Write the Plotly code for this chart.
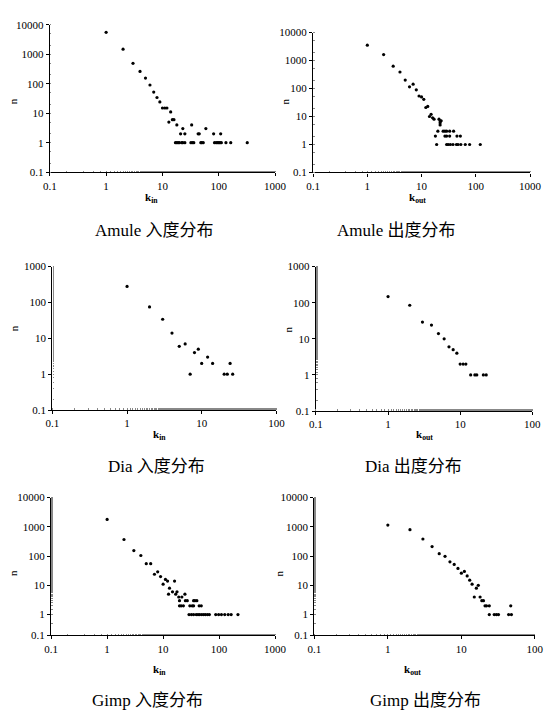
import plotly.graph_objects as go

W, H = 551, 716

# ---------------- data ----------------
amule_in_k = [1, 2, 3, 4, 5, 6, 7, 8, 9, 10, 11, 12, 14, 13, 15, 16, 18, 21, 23, 25, 33, 43, 45, 59, 81, 108,
              17, 18, 19, 20, 22, 23, 25, 32, 34, 36, 48, 50, 53, 84, 90, 95, 100, 105, 111, 134, 163, 320]
amule_in_n = [5500, 1480, 490, 260, 155, 90, 52, 34, 24, 15, 15, 15, 11, 5, 6, 6, 4, 2, 3, 2, 4, 2, 2, 3, 2, 2,
              1, 1, 1, 1, 1, 1, 1, 1, 1, 1, 1, 1, 1, 1, 1, 1, 1, 1, 1, 1, 1, 1]

amule_out_k = [1, 2, 3, 4, 5, 6, 7, 8, 9, 10, 11, 12, 13, 14, 15, 16, 17, 21, 22, 23, 22, 22,
               20, 25, 27, 29, 33, 39,
               18, 27, 29, 33, 45, 52,
               19, 29, 31, 34, 38, 44, 47, 53, 64, 77, 121]
amule_out_n = [3550, 1630, 630, 390, 200, 115, 143, 90, 54, 50, 41, 21, 23, 10, 12, 9, 8, 8, 7, 7, 6, 5,
               3, 3, 3, 3, 3, 3,
               2, 2, 2, 2, 2, 2,
               1, 1, 1, 1, 1, 1, 1, 1, 1, 1, 1]

dia_in_k = [1, 2, 3, 4, 5, 6, 7, 8, 9, 10, 12, 14, 20, 22, 24, 26]
dia_in_n = [280, 75, 34, 14, 6, 7, 1, 4, 5, 2, 3, 2, 1, 1, 2, 1]

dia_out_k = [1, 2, 3, 4, 5, 6, 7, 8, 9, 10, 11, 12, 14, 16, 17, 21, 23]
dia_out_n = [148, 85, 29, 24, 14, 10, 6, 5, 4, 2, 2, 2, 1, 1, 1, 1, 1]

gimp_in_k = [1, 2, 3, 4, 5, 6, 7, 8, 9, 10, 11, 12, 16, 13, 12.5, 14.7, 16.8, 17.7, 19, 21.6, 24.5,
             19.6, 25, 27, 35, 37, 40,
             19.6, 21, 23, 30, 33, 35, 44, 48,
             29, 32, 35, 39, 42, 45, 49, 53, 57, 62, 67, 87, 98, 110, 126, 145, 164, 217]
gimp_in_n = [1800, 370, 155, 105, 55, 55, 24, 29, 20, 11, 16, 14, 14, 8, 5, 6, 5, 6, 4, 4, 5,
             3, 3, 3, 3, 3, 3,
             2, 2, 2, 2, 2, 2, 2, 2,
             1, 1, 1, 1, 1, 1, 1, 1, 1, 1, 1, 1, 1, 1, 1, 1, 1, 1]

gimp_out_k = [1, 2, 3, 4, 5, 6, 7, 8, 9, 10, 11, 12, 13, 14, 16, 17, 15, 18, 19, 20, 21, 22, 24,
              24, 28, 30, 32, 44, 48, 47]
gimp_out_n = [1150, 800, 385, 212, 121, 98, 64, 52, 38, 26, 30, 21, 15, 11, 8, 10, 4, 4, 3, 3, 2, 2, 2,
              1, 1, 1, 1, 1, 1, 2]

captions = ["Amule 入度分布", "Amule 出度分布", "Dia 入度分布", "Dia 出度分布", "Gimp 入度分布", "Gimp 出度分布"]
xtitles = ["k<sub>in</sub>", "k<sub>out</sub>", "k<sub>in</sub>", "k<sub>out</sub>", "k<sub>in</sub>", "k<sub>out</sub>"]

xt_1000 = [0.1, 1, 10, 100, 1000]
xt_1000_txt = ["0.1", "1", "10", "100", "1000"]
xt_100 = [0.1, 1, 10, 100]
xt_100_txt = ["0.1", "1", "10", "100"]
yt_10000 = [0.1, 1, 10, 100, 1000, 10000]
yt_10000_txt = ["0.1", "1", "10", "100", "1000", "10000"]
yt_1000 = [0.1, 1, 10, 100, 1000]
yt_1000_txt = ["0.1", "1", "10", "100", "1000"]
# bottom decade of the Gimp panels is drawn compressed in the original
gimp_bottom = 10 ** -0.707
yt_gimp = [gimp_bottom, 1, 10, 100, 1000, 10000]

series = [(amule_in_k, amule_in_n), (amule_out_k, amule_out_n), (dia_in_k, dia_in_n),
          (dia_out_k, dia_out_n), (gimp_in_k, gimp_in_n), (gimp_out_k, gimp_out_n)]

# panel geometry in pixels: x0, x1, ytop, ybottom
panels = [
    dict(px=(44.3, 277.7), py=(19, 169), xr=[-1, 3], yr=[-1, 4], xt=xt_1000, xtt=xt_1000_txt, yt=yt_10000, ytt=yt_10000_txt),
    dict(px=(317, 541.7), py=(27, 169.3), xr=[-1, 3], yr=[-1, 4], xt=xt_1000, xtt=xt_1000_txt, yt=yt_10000, ytt=yt_10000_txt),
    dict(px=(47, 279), py=(265, 411), xr=[-1, 2], yr=[-1, 3], xt=xt_100, xtt=xt_100_txt, yt=yt_1000, ytt=yt_1000_txt),
    dict(px=(320, 544), py=(265, 412), xr=[-1, 2], yr=[-1, 3], xt=xt_100, xtt=xt_100_txt, yt=yt_1000, ytt=yt_1000_txt),
    dict(px=(45.7, 277.7), py=(500, 640), xr=[-1, 3], yr=[-0.707, 4], xt=xt_1000, xtt=xt_1000_txt, yt=yt_gimp, ytt=yt_10000_txt),
    dict(px=(318.3, 546.7), py=(500, 640), xr=[-1, 2], yr=[-0.707, 4], xt=xt_100, xtt=xt_100_txt, yt=yt_gimp, ytt=yt_10000_txt),
]

xtitle_pos = [(150, 195), (425, 195), (158, 436), (432, 436), (158, 675), (420, 675)]
ntitle_pos = [(7, 97), (288, 97), (7, 328), (292, 329), (7, 577), (282, 577)]
caption_pos = [(153, 228), (403, 228), (155, 468), (421, 468), (146, 706), (433, 706)]

SERIF = "Liberation Serif, Times New Roman, serif"
CAPFONT = "Liberation Serif, Noto Sans CJK SC, serif"

fig = go.Figure()
layout = dict(width=W, height=H, margin=dict(l=0, r=0, t=0, b=0),
              paper_bgcolor="white", plot_bgcolor="white", showlegend=False)
annotations = []

for i, ((k, n), p) in enumerate(zip(series, panels)):
    idx = "" if i == 0 else str(i + 1)
    fig.add_trace(go.Scatter(x=k, y=n, mode="markers", xaxis="x" + idx, yaxis="y" + idx,
                             marker=dict(symbol="circle", size=3.2, color="black", line=dict(width=0)),
                             hoverinfo="x+y"))
    common = dict(type="log", showgrid=False, zeroline=False, showline=True, linecolor="black",
                  linewidth=1.3, ticks="outside", ticklen=3, tickwidth=1, tickcolor="black",
                  tickfont=dict(family=SERIF, size=11, color="black"),
                  minor=dict(ticks="inside", ticklen=1.5, tickwidth=0.5, tickcolor="#888", showgrid=False))
    layout["xaxis" + idx] = dict(common, domain=[p["px"][0] / W, p["px"][1] / W], range=p["xr"],
                                 anchor="y" + idx, tickvals=p["xt"], ticktext=p["xtt"])
    layout["yaxis" + idx] = dict(common, domain=[1 - p["py"][1] / H, 1 - p["py"][0] / H], range=p["yr"],
                                 anchor="x" + idx, tickvals=p["yt"], ticktext=p["ytt"])
    xp, yp = xtitle_pos[i]
    annotations.append(dict(x=xp / W, y=1 - yp / H, xref="paper", yref="paper", text="<b>" + xtitles[i] + "</b>",
                            showarrow=False, font=dict(family=SERIF, size=11, color="black"),
                            xanchor="center", yanchor="middle"))
    xp, yp = ntitle_pos[i]
    annotations.append(dict(x=xp / W, y=1 - yp / H, xref="paper", yref="paper", text="n", textangle=-90,
                            showarrow=False, font=dict(family=SERIF, size=11, color="black"),
                            xanchor="center", yanchor="middle"))
    xp, yp = caption_pos[i]
    annotations.append(dict(x=xp / W, y=1 - yp / H, xref="paper", yref="paper", text=captions[i],
                            showarrow=False, font=dict(family=CAPFONT, size=17, color="black"),
                            xanchor="center", yanchor="middle"))

layout["annotations"] = annotations
fig.update_layout(**layout)
fig.write_html("out.html")
